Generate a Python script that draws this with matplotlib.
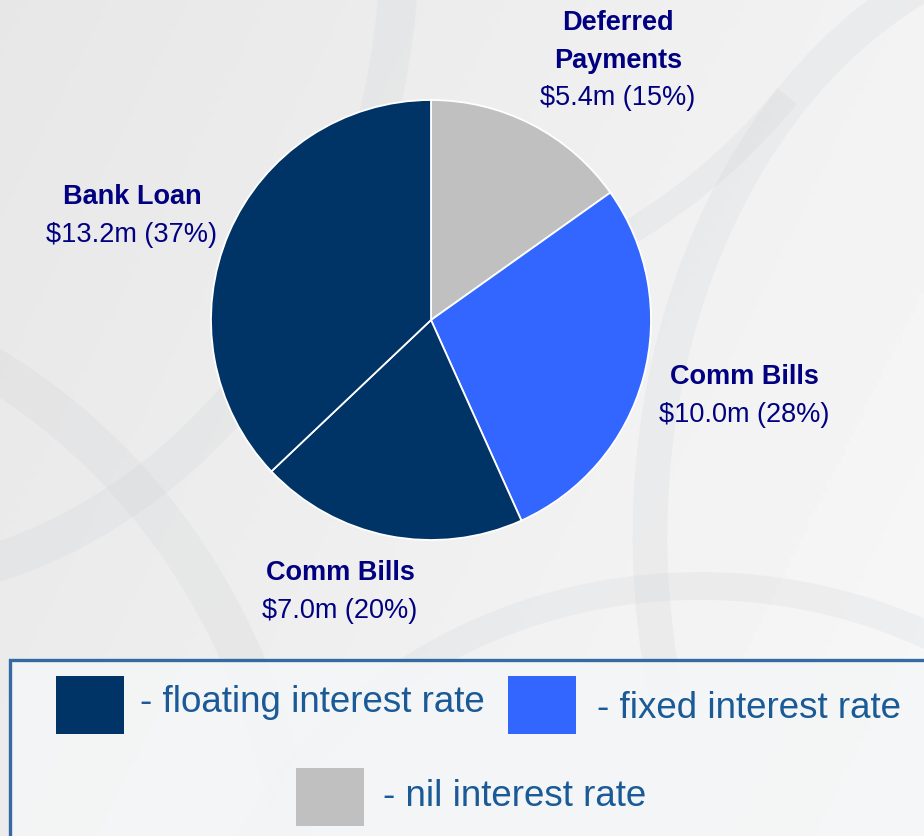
import matplotlib.pyplot as plt
import numpy as np
from matplotlib.patches import Rectangle, Arc

plt.rcParams['font.family'] = ['Liberation Sans', 'DejaVu Sans']

# debt facilities, clockwise from 12 o'clock
names = ['Deferred\nPayments', 'Comm Bills', 'Comm Bills', 'Bank Loan']
amounts = [5.4, 10.0, 7.0, 13.2]
rates = ['nil', 'fixed', 'floating', 'floating']

rateColors = {'floating': '#003366', 'fixed': '#3366FF', 'nil': '#C0C0C0'}
legendText = {'floating': '- floating interest rate',
              'fixed': '- fixed interest rate',
              'nil': '- nil interest rate'}

labelColor = '#000080'
legendColor = '#1A5A96'
W, H = 924, 836

fig = plt.figure(figsize=(W / 100, H / 100), dpi=100)
ax = fig.add_axes([0, 0, 1, 1])
ax.set_xlim(0, W)
ax.set_ylim(0, H)
ax.set_aspect('equal')
ax.axis('off')

# soft grey backdrop with a few faint swooshes
gx = np.linspace(0, 1, 200)
gy = np.linspace(0, 1, 200)
GX, GY = np.meshgrid(gx, gy)
bg = 0.905 + 0.045 * GX + 0.02 * (1 - GY)
ax.imshow(bg, cmap='gray', vmin=0, vmax=1, extent=[0, W, 0, H], origin='lower', zorder=0)
for cx, cy, w, h, a1, a2, lw in [(-150, 900, 1100, 1300, 270, 360, 28),
                                 (250, 1050, 1300, 1100, 270, 330, 18),
                                 (-300, -100, 1200, 1300, 0, 80, 30),
                                 (1100, 300, 900, 1200, 90, 200, 25),
                                 (700, -200, 1000, 900, 60, 170, 20)]:
    ax.add_patch(Arc((cx, cy), w, h, theta1=a1, theta2=a2, color='#c9ccd1',
                     lw=lw, alpha=0.18, zorder=0.5))

# the pie, centre and radius in pixel units
center = (431, H - 320)
colors = [rateColors[r] for r in rates]
ax.pie(amounts, colors=colors, startangle=90, counterclock=False,
       center=center, radius=220, frame=True,
       wedgeprops={'edgecolor': 'white', 'linewidth': 1.3})
ax.set_xlim(0, W)
ax.set_ylim(0, H)
ax.axis('off')

total = sum(amounts)
labelPos = [(618, 23), (744, 377), (340, 573), (132, 197)]
for name, amt, (lx, ly) in zip(names, amounts, labelPos):
    lines = name.split('\n')
    y = H - ly
    for ln in lines:
        ax.text(lx, y, ln, ha='center', va='center', fontsize=19.5,
                fontweight='bold', color=labelColor)
        y -= 37.5
    ax.text(lx, y, '$%.1fm (%d%%)' % (amt, round(amt / total * 100)),
            ha='center', va='center', fontsize=19.5, color=labelColor)

# legend panel
ax.add_patch(Rectangle((10, -5), W, H - 660 + 5, facecolor='#F4F6F7',
                       edgecolor='#1F5C99', linewidth=2.4, alpha=0.9, zorder=2))
legendPos = {'floating': (56, 676, 140, 703),
             'fixed': (508, 676, 597, 708),
             'nil': (296, 768, 383, 796)}
for key in ['floating', 'fixed', 'nil']:
    sx, sy, tx, ty = legendPos[key]
    ax.add_patch(Rectangle((sx, H - sy - 58), 68, 58, facecolor=rateColors[key],
                           edgecolor='none', zorder=3))
    ax.text(tx, H - ty, legendText[key], ha='left', va='center', fontsize=26.5,
            color=legendColor, zorder=3)

fig.savefig('out.png', dpi=100)
